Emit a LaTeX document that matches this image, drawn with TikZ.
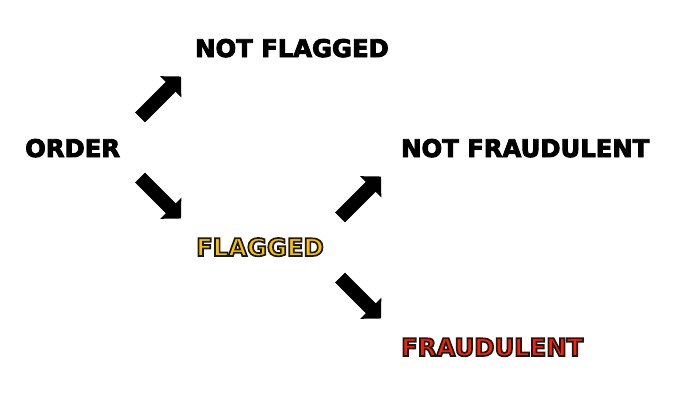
\documentclass[tikz,border=0pt]{standalone}
\usepackage{fontspec}
\usepackage{xcolor}
\usepackage{tikz}
\usetikzlibrary{arrows.meta, positioning}
\setmainfont{DejaVu Sans}

\definecolor{flagyellow}{HTML}{FFC000}
\definecolor{fraudred}{HTML}{FF2000}
% filled letters with a dark outline (text render mode 2)
\newcommand{\outlined}[2]{\textcolor{#1}{\special{pdf:literal direct 0.1 0.1 0.1 RG 1.7 w 2 Tr}#2\special{pdf:literal direct 0 Tr}}}
% slightly heavier black letters
\newcommand{\heavytext}[1]{\special{pdf:literal direct 0 0 0 RG 0.9 w 2 Tr}#1\special{pdf:literal direct 0 Tr}}

\tikzstyle{label} = [inner sep=0pt, anchor=base west, font=\fontsize{24.3}{29}\selectfont\bfseries]
\tikzstyle{bigarrow} = [line width=14pt, -{Triangle[length=14.5pt, width=29pt]}]

\begin{document}
\begin{tikzpicture}[x=1pt, y=1pt]
        \useasboundingbox (0,0) rectangle (700,400);

        % Outcomes
        \node (order) [label] at (25,243) {\heavytext{ORDER}};
        \node (notflagged) [label] at (195,343) {\heavytext{NOT FLAGGED}};
        \node (flagged) [label] at (196,144) {\outlined{flagyellow}{FLAGGED}};
        \node (notfraud) [label] at (401,243) {\heavytext{NOT FRAUDULENT}};
        \node (fraud) [label] at (401,44) {\outlined{fraudred}{FRAUDULENT}};

        % Arrow ends
        \coordinate (a1) at (140,282.5);
        \coordinate (b1) at (181,323.5);
        \coordinate (a2) at (140,222.5);
        \coordinate (b2) at (181,181.5);
        \coordinate (a3) at (340,182.5);
        \coordinate (b3) at (381,223.5);
        \coordinate (a4) at (340,122.5);
        \coordinate (b4) at (381,81.5);

        % Arrows
        \draw [bigarrow] (a1) -- (b1);
        \draw [bigarrow] (a2) -- (b2);
        \draw [bigarrow] (a3) -- (b3);
        \draw [bigarrow] (a4) -- (b4);
    \end{tikzpicture}
\end{document}
